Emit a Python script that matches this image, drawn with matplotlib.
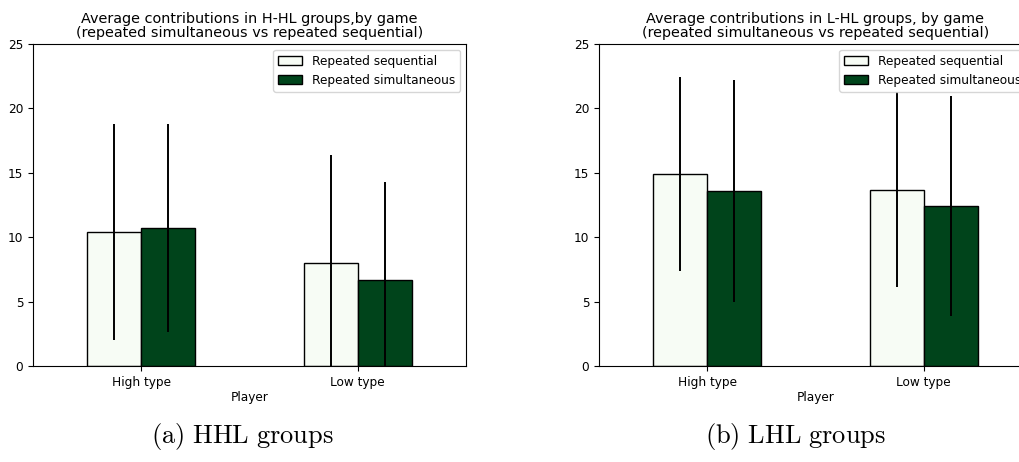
import numpy as np
import matplotlib
matplotlib.use("Agg")
import matplotlib.pyplot as plt

players = ["High type", "Low type"]
series = ["Repeated sequential", "Repeated simultaneous"]

# H-HL groups
hhl_seq = [10.4, 8.0]
hhl_sim = [10.7, 6.7]
hhl_seq_err = [8.35, 8.4]
hhl_sim_err = [8.05, 7.6]

# L-HL groups
lhl_seq = [14.9, 13.7]
lhl_sim = [13.6, 12.4]
lhl_seq_err = [7.55, 7.6]
lhl_sim_err = [8.6, 8.55]

colors = ["#f7fcf5", "#00441b"]

W, H = 1020, 462
fig = plt.figure(figsize=(W / 100, H / 100), dpi=100)

panels = [
    (33, hhl_seq, hhl_sim, hhl_seq_err, hhl_sim_err,
     "Average contributions in H-HL groups,by game\n(repeated simultaneous vs repeated sequential)"),
    (599, lhl_seq, lhl_sim, lhl_seq_err, lhl_sim_err,
     "Average contributions in L-HL groups, by game\n(repeated simultaneous vs repeated sequential)"),
]

x = np.arange(len(players))
width = 0.25

for left, seq, sim, seq_err, sim_err, title in panels:
    ax = fig.add_axes([left / W, (H - 366) / H, 433 / W, 322 / H])
    for i, (vals, errs) in enumerate([(seq, seq_err), (sim, sim_err)]):
        ax.bar(x + (i - 0.5) * width, vals, width, color=colors[i],
               edgecolor="black", linewidth=1.0, label=series[i],
               yerr=errs, error_kw=dict(ecolor="black", elinewidth=1.4, capsize=0))
    ax.set_xlim(-0.5, 1.5)
    ax.set_ylim(0, 25)
    ax.set_yticks([0, 5, 10, 15, 20, 25])
    ax.set_xticks(x)
    ax.set_xticklabels(players, rotation=0)
    ax.tick_params(labelsize=8.7)
    ax.set_xlabel("Player", fontsize=8.7, labelpad=2)
    ax.set_title(title, fontsize=10.4, pad=5, linespacing=1.05)
    ax.legend(loc="upper right", fontsize=8.7)

plt.rcParams["mathtext.fontset"] = "cm"
fig.text(242 / W, 1 - 437 / H, r"$\mathrm{(a)\ HHL\ groups}$", ha="center", va="center", fontsize=19)
fig.text(795 / W, 1 - 437 / H, r"$\mathrm{(b)\ LHL\ groups}$", ha="center", va="center", fontsize=19)

fig.savefig("out.png", dpi=100)
